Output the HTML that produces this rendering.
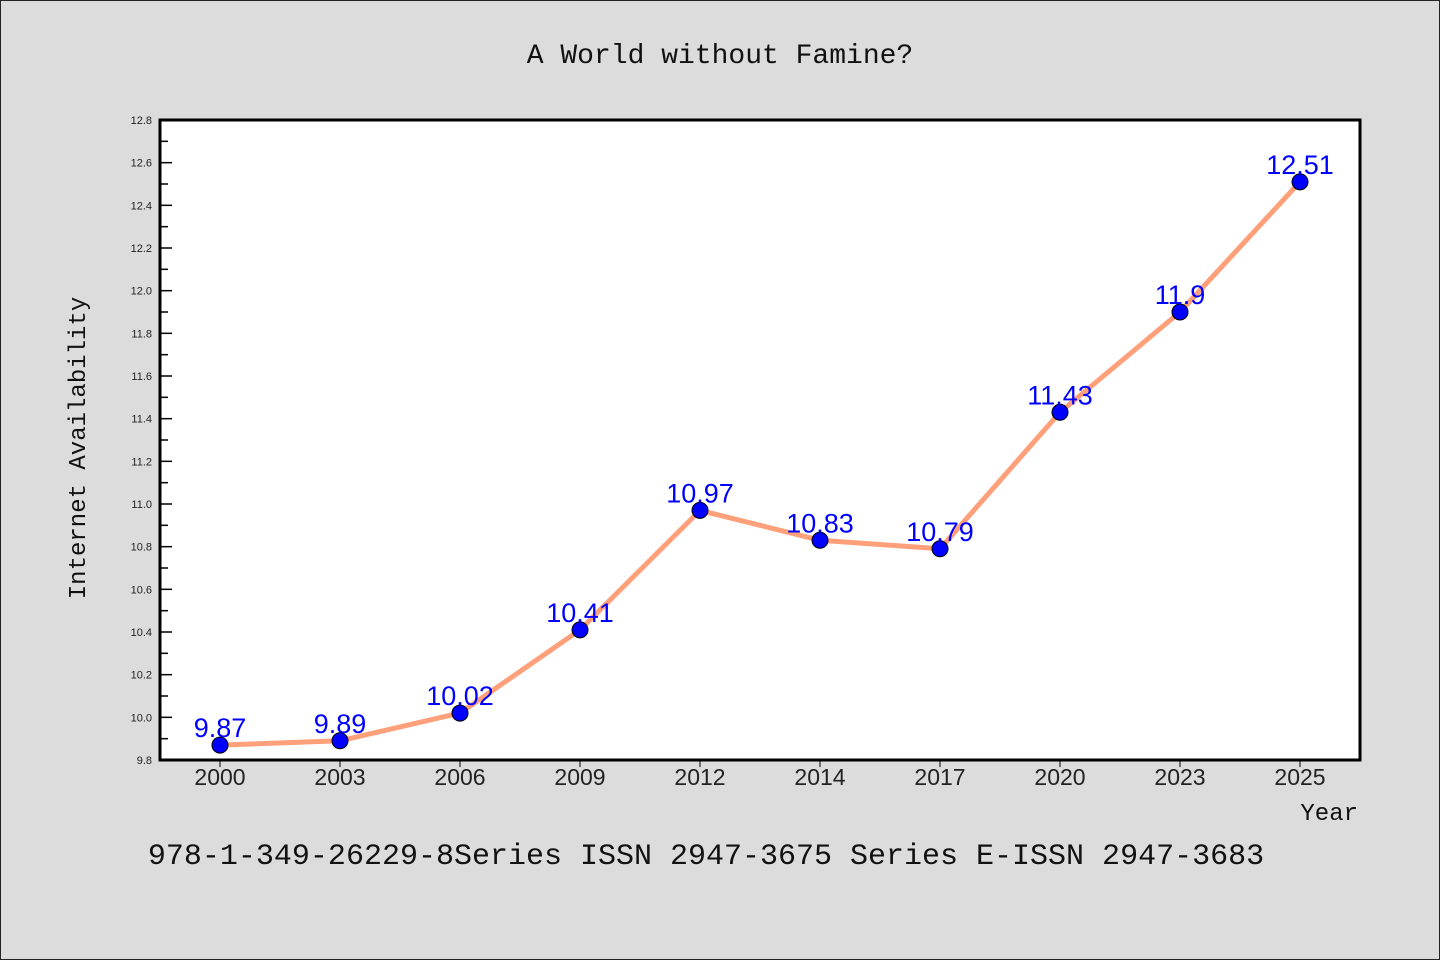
<!DOCTYPE html>
<html><head><meta charset="utf-8"><style>
body{margin:0;background:#dcdcdc}
svg{display:block}
</style></head><body>
<svg width="1440" height="960" xmlns="http://www.w3.org/2000/svg">
<rect x="0.5" y="0.5" width="1439" height="959" fill="#dcdcdc" stroke="#222"/>
<text x="720" y="63" text-anchor="middle" font-family="'Liberation Mono','Noto Sans CJK SC',monospace" font-size="28" fill="#111">A World without Famine?</text>
<rect x="160" y="120" width="1200" height="640" fill="#fff" stroke="#000" stroke-width="3"/>
<g id="yaxis"></g>
<g id="xaxis"></g>
<text transform="translate(85,448) rotate(-90)" text-anchor="middle" font-family="'Liberation Mono',monospace" font-size="24" fill="#111">Internet Availability</text>
<text x="1358" y="820" text-anchor="end" font-family="'Liberation Mono',monospace" font-size="24" fill="#111">Year</text>
<g id="series"></g>
<text x="706" y="864" text-anchor="middle" font-family="'Liberation Mono',monospace" font-size="30" fill="#111">978-1-349-26229-8Series ISSN 2947-3675 Series E-ISSN 2947-3683</text>
</svg>
<script>
const categories=["2000","2003","2006","2009","2012","2014","2017","2020","2023","2025"];
const values=[9.87,9.89,10.02,10.41,10.97,10.83,10.79,11.43,11.9,12.51];
const yTicks=[9.8,10.0,10.2,10.4,10.6,10.8,11.0,11.2,11.4,11.6,11.8,12.0,12.2,12.4,12.6,12.8];
const yMin=9.8,yMax=12.8,L=160,R=1360,T=120,B=760;
const NS="http://www.w3.org/2000/svg";
function y(v){return B-(v-yMin)/(yMax-yMin)*(B-T);}
function x(i){return L+60+i*(R-L-120)/(categories.length-1);}
function mk(t,a,p){const e=document.createElementNS(NS,t);for(const k in a)e.setAttribute(k,a[k]);p.appendChild(e);return e;}
const ya=document.getElementById('yaxis'),xa=document.getElementById('xaxis'),s=document.getElementById('series');
yTicks.forEach((v,i)=>{
  const t=mk('line',{x1:L,x2:L+12,y1:y(v),y2:y(v),stroke:'#000','stroke-width':1.5},ya);
  
  
  if(i<yTicks.length-1){const m=mk('line',{x1:L,x2:L+8,y1:y(v+0.1),y2:y(v+0.1),stroke:'#000','stroke-width':1.5},ya);
  
  }
  const l=mk('text',{x:L-8,y:y(v)+4,'text-anchor':'end','font-family':'Liberation Sans,sans-serif','font-size':11,fill:'#222'},ya);
  l.textContent=v.toFixed(1);
  
  
});
categories.forEach((c,i)=>{
  const t=mk('line',{x1:x(i),x2:x(i),y1:B,y2:B+7,stroke:'#000','stroke-width':1},xa);
  
  
  const l=mk('text',{x:x(i),y:B+25,'text-anchor':'middle','font-family':'Liberation Sans,sans-serif','font-size':23,fill:'#222'},xa);
  l.textContent=c;
  
  
});
const pl=mk('polyline',{points:values.map((v,i)=>x(i)+','+y(v)).join(' '),fill:'none',stroke:'#ffa07a','stroke-width':5,'stroke-linejoin':'round'},s);


values.forEach((v,i)=>{
  const c=mk('circle',{cx:x(i),cy:y(v),r:8,fill:'#0000ff',stroke:'#000','stroke-width':1},s);
  
  
  const l=mk('text',{x:x(i),y:y(v)-8,'text-anchor':'middle','font-family':'Liberation Sans,sans-serif','font-size':27,fill:'#0000ff'},s);
  l.textContent=String(v);
  
  
});
</script>
</body></html>
